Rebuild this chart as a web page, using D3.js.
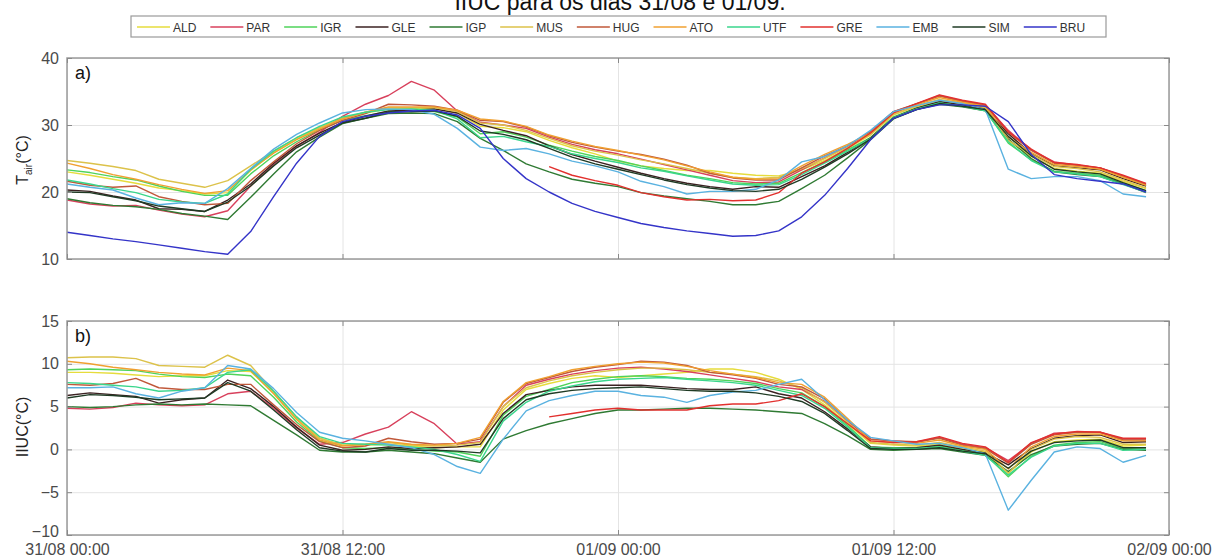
<!DOCTYPE html>
<html>
<head>
<meta charset="utf-8">
<script src="https://cdn.jsdelivr.net/npm/d3@7"></script>
<style>
   body { margin: 0; background: #fff; }
   svg { font-family: "Liberation Sans", Arial, sans-serif; }
   .grid line { stroke: #e4e4e4; stroke-width: 1; }
   .grid path { display: none; }
   .tick text { fill: #4a4a4a; font-size: 16px; }
   .ax line { stroke: #8a8a8a; }
   .ax path { display: none; }
</style>
</head>
<body>
<svg id="chart" width="1217" height="559"></svg>
<script>
// stations, legend order
const stations = ["ALD", "PAR", "IGR", "GLE", "IGP", "MUS", "HUG", "ATO", "UTF", "GRE", "EMB", "SIM", "BRU"];
const colors = ["#e6dc3c", "#d8405c", "#4fd35a", "#3b2222", "#2f7a33", "#dcc24a", "#c0583a",
   "#f0a030", "#3ad68c", "#e2302e", "#5ab2e0", "#1f3b24", "#3434c8"];

const hours = d3.range(48); // hourly, 31/08 00:00 .. 01/09 23:00
const xTickHours = [0, 12, 24, 36, 48];
const xTickLabels = ["31/08 00:00", "31/08 12:00", "01/09 00:00", "01/09 12:00", "02/09 00:00"];
const tairTicks = [10, 20, 30, 40];
const iiucTicks = [-10, -5, 0, 5, 10, 15];

// air temperature (°C)
const tairALD = [23.0, 22.5, 21.9, 21.3, 20.6, 20.2, 19.7, 19.9, 23.2, 25.9, 27.9, 29.6, 31.0, 31.8, 32.4, 32.5, 32.4, 31.8, 29.8, 29.6, 29.0, 27.7, 26.6, 25.7, 24.6, 23.9, 23.5, 23.2, 23.2, 22.8, 22.5, 22.4, 23.3, 24.7, 26.5, 28.5, 31.5, 32.7, 33.6, 33.1, 32.5, 27.7, 25.3, 23.5, 23.1, 22.8, 21.6, 20.5];
const tairPAR = [18.8, 18.2, 17.9, 18.0, 17.3, 16.7, 16.3, 17.2, 20.9, 24.1, 26.8, 28.9, 31.3, 33.1, 34.4, 36.5, 35.2, 32.1, 30.4, 30.0, 29.5, 28.2, 27.1, 26.3, 25.7, 24.9, 24.1, 23.3, 22.5, 21.7, 21.4, 21.5, 23.3, 25.1, 26.8, 29.0, 32.0, 33.1, 34.4, 33.6, 33.0, 29.2, 26.3, 24.5, 24.0, 23.6, 22.4, 21.2];
const tairIGR = [23.3, 22.9, 22.3, 21.8, 20.9, 20.1, 19.5, 19.5, 22.7, 25.4, 27.5, 29.3, 30.7, 31.4, 32.0, 32.1, 32.0, 31.2, 28.7, 29.0, 28.2, 27.0, 26.1, 25.3, 24.7, 23.9, 23.2, 22.5, 22.0, 21.4, 21.2, 21.3, 22.9, 24.5, 26.3, 28.1, 31.2, 32.5, 33.4, 32.9, 32.2, 27.3, 24.8, 23.1, 22.8, 22.5, 21.3, 20.2];
const tairGLE = [20.3, 20.1, 19.4, 18.8, 17.5, 17.4, 17.1, 18.8, 21.2, 24.3, 26.9, 28.8, 30.4, 31.3, 32.1, 32.2, 32.4, 31.8, 30.1, 29.2, 28.4, 26.9, 25.6, 24.6, 23.7, 22.8, 22.0, 21.3, 20.8, 20.4, 20.8, 20.7, 22.3, 23.9, 25.9, 28.1, 31.1, 32.5, 33.5, 33.0, 32.4, 28.7, 25.7, 23.9, 23.6, 23.3, 22.0, 20.9];
const tairIGP = [19.0, 18.4, 18.0, 17.8, 17.4, 16.8, 16.4, 15.9, 19.2, 22.7, 26.0, 28.2, 30.2, 31.0, 31.7, 31.8, 31.7, 30.5, 28.0, 26.2, 24.2, 23.0, 21.9, 21.3, 20.8, 19.9, 19.4, 19.0, 18.6, 18.1, 18.1, 18.6, 20.5, 22.5, 25.1, 27.8, 30.9, 32.3, 33.1, 32.7, 32.1, 27.9, 25.0, 23.0, 22.6, 22.3, 21.2, 19.9];
const tairMUS = [24.7, 24.3, 23.8, 23.2, 21.9, 21.3, 20.7, 21.7, 23.9, 26.1, 28.1, 29.6, 31.0, 31.9, 32.6, 32.6, 32.6, 32.0, 30.3, 30.0, 29.2, 28.0, 26.9, 26.1, 25.5, 24.8, 24.2, 23.5, 22.8, 22.2, 22.0, 22.2, 23.5, 25.0, 26.7, 28.6, 31.6, 32.8, 33.8, 33.3, 32.6, 27.7, 25.6, 23.8, 23.5, 23.0, 21.8, 20.6];
const tairHUG = [21.6, 21.0, 20.7, 20.9, 19.3, 18.6, 18.1, 18.3, 21.7, 24.5, 27.2, 29.2, 30.7, 31.7, 33.1, 33.0, 32.8, 32.2, 30.7, 30.5, 29.7, 28.4, 27.4, 26.7, 26.1, 25.6, 24.9, 24.0, 22.8, 22.1, 21.8, 21.8, 23.6, 25.4, 26.9, 29.0, 32.0, 33.2, 34.3, 33.5, 32.9, 28.9, 26.2, 24.3, 24.0, 23.6, 22.3, 21.1];
const tairATO = [24.3, 23.5, 22.6, 21.9, 21.1, 20.4, 19.8, 20.2, 23.3, 25.8, 27.8, 29.4, 30.9, 31.9, 32.7, 32.7, 32.7, 32.2, 30.9, 30.6, 29.8, 28.5, 27.6, 26.8, 26.2, 25.5, 24.8, 23.9, 23.0, 22.2, 21.9, 22.0, 23.9, 25.6, 27.1, 28.8, 31.8, 33.0, 34.1, 33.4, 32.8, 28.2, 25.9, 24.1, 23.8, 23.4, 22.2, 21.0];
const tairUTF = [21.8, 21.2, 20.5, 19.9, 18.9, 18.5, 18.3, 19.7, 23.4, 26.1, 28.1, 29.8, 31.2, 31.9, 32.3, 32.4, 32.2, 30.9, 28.1, 28.3, 27.5, 26.8, 25.7, 25.0, 24.4, 23.6, 23.1, 22.4, 21.8, 21.2, 21.0, 21.1, 22.6, 24.3, 26.1, 28.0, 31.1, 32.4, 33.3, 32.8, 32.1, 27.5, 24.7, 23.0, 22.7, 22.3, 21.1, 20.0];
const tairGRE = [null, null, null, null, null, null, null, null, null, null, null, null, null, null, null, null, null, null, null, null, null, 23.8, 22.5, 21.7, 21.0, 19.9, 19.3, 18.8, 18.9, 18.7, 18.8, 19.9, 22.8, 24.5, 26.5, 28.8, 31.8, 33.2, 34.5, 33.7, 33.1, 29.0, 26.4, 24.4, 24.1, 23.6, 22.5, 21.3];
const tairEMB = [21.2, 20.7, 20.3, 19.1, 18.1, 18.4, 18.3, 20.5, 23.5, 26.4, 28.6, 30.3, 31.8, 32.3, 32.4, 32.3, 31.6, 29.5, 26.7, 26.2, 26.5, 25.7, 24.6, 23.9, 23.0, 21.6, 20.8, 19.7, 20.1, 20.1, 20.4, 21.8, 24.5, 25.3, 26.9, 29.2, 32.0, 32.9, 33.7, 33.2, 32.3, 23.4, 22.0, 22.3, 22.3, 21.7, 19.7, 19.3];
const tairSIM = [20.0, 19.9, 19.3, 18.7, 17.9, 17.5, 17.1, 18.5, 20.9, 23.9, 26.6, 28.5, 30.3, 31.0, 31.9, 32.0, 32.1, 31.3, 29.1, 28.6, 27.8, 26.5, 25.2, 24.2, 23.4, 22.6, 21.8, 21.1, 20.6, 20.2, 20.1, 20.4, 21.9, 23.7, 25.7, 27.9, 31.0, 32.3, 33.2, 32.8, 32.3, 28.3, 25.4, 23.4, 23.0, 22.7, 21.4, 20.2];
const tairBRU = [14.0, 13.5, 13.0, 12.6, 12.1, 11.6, 11.1, 10.7, 14.1, 19.3, 24.3, 28.3, 30.5, 31.3, 31.8, 32.1, 32.2, 31.5, 29.5, 25.0, 22.0, 20.0, 18.3, 17.1, 16.2, 15.3, 14.7, 14.2, 13.8, 13.4, 13.5, 14.2, 16.3, 19.5, 23.5, 27.8, 31.0, 32.3, 33.0, 33.0, 32.8, 30.5, 25.6, 22.6, 22.0, 21.6, 21.2, 20.0];

// urban heat island intensity IIUC (°C)
const iiucALD = [9.0, 9.0, 8.9, 8.7, 8.5, 8.6, 8.6, 9.2, 9.1, 6.6, 3.6, 1.3, 0.5, 0.5, 0.6, 0.4, 0.2, 0.3, 0.3, 4.6, 7.0, 7.7, 8.3, 8.6, 8.4, 8.6, 8.8, 9.0, 9.4, 9.4, 9.0, 8.2, 7.0, 5.2, 3.0, 0.7, 0.5, 0.4, 0.6, 0.1, -0.3, -2.8, -0.3, 0.9, 1.1, 1.2, 0.4, 0.5];
const iiucPAR = [4.8, 4.7, 4.9, 5.4, 5.2, 5.1, 5.2, 6.5, 6.8, 4.8, 2.5, 0.6, 0.8, 1.8, 2.6, 4.4, 3.0, 0.6, 0.9, 5.0, 7.5, 8.2, 8.8, 9.2, 9.5, 9.6, 9.4, 9.1, 8.7, 8.3, 7.9, 7.3, 7.0, 5.6, 3.3, 1.2, 1.0, 0.8, 1.4, 0.6, 0.2, -1.3, 0.7, 1.9, 2.0, 2.0, 1.2, 1.2];
const iiucIGR = [9.3, 9.4, 9.3, 9.2, 8.8, 8.5, 8.4, 8.8, 8.6, 6.1, 3.2, 1.0, 0.2, 0.1, 0.2, 0.0, -0.2, -0.3, -0.8, 4.0, 6.2, 7.0, 7.8, 8.2, 8.5, 8.6, 8.5, 8.3, 8.2, 8.0, 7.7, 7.1, 6.6, 5.0, 2.8, 0.3, 0.2, 0.2, 0.4, -0.1, -0.6, -3.2, -0.8, 0.5, 0.8, 0.9, 0.1, 0.2];
const iiucGLE = [6.3, 6.6, 6.4, 6.2, 5.4, 5.8, 6.0, 8.1, 7.1, 5.0, 2.6, 0.5, -0.1, 0.0, 0.3, 0.1, 0.2, 0.3, 0.6, 4.2, 6.4, 6.9, 7.3, 7.5, 7.5, 7.5, 7.3, 7.1, 7.0, 7.0, 7.3, 6.5, 6.0, 4.4, 2.4, 0.3, 0.1, 0.2, 0.5, 0.0, -0.4, -1.8, 0.1, 1.3, 1.6, 1.7, 0.8, 0.9];
const iiucIGP = [5.0, 4.9, 5.0, 5.2, 5.3, 5.2, 5.3, 5.2, 5.1, 3.4, 1.7, -0.1, -0.3, -0.3, -0.1, -0.3, -0.5, -1.0, -1.5, 1.2, 2.2, 3.0, 3.6, 4.2, 4.6, 4.6, 4.7, 4.8, 4.8, 4.7, 4.6, 4.4, 4.2, 3.0, 1.6, 0.0, -0.1, 0.0, 0.1, -0.3, -0.7, -2.6, -0.6, 0.4, 0.6, 0.7, 0.0, -0.1];
const iiucMUS = [10.7, 10.8, 10.8, 10.6, 9.8, 9.7, 9.6, 11.0, 9.8, 6.8, 3.8, 1.3, 0.5, 0.6, 0.8, 0.5, 0.4, 0.5, 0.8, 5.0, 7.2, 8.0, 8.6, 9.0, 9.3, 9.5, 9.5, 9.3, 9.0, 8.8, 8.5, 8.0, 7.2, 5.5, 3.2, 0.8, 0.6, 0.5, 0.8, 0.3, -0.2, -2.8, 0.0, 1.2, 1.5, 1.4, 0.6, 0.6];
const iiucHUG = [7.6, 7.5, 7.7, 8.3, 7.2, 7.0, 7.0, 7.6, 7.6, 5.2, 2.9, 0.9, 0.2, 0.4, 1.3, 0.9, 0.6, 0.7, 1.2, 5.5, 7.7, 8.4, 9.1, 9.6, 9.9, 10.3, 10.2, 9.8, 9.0, 8.7, 8.3, 7.6, 7.3, 5.9, 3.4, 1.2, 1.0, 0.9, 1.3, 0.5, 0.1, -1.6, 0.6, 1.7, 2.0, 2.0, 1.1, 1.1];
const iiucATO = [10.3, 10.0, 9.6, 9.3, 9.0, 8.8, 8.7, 9.5, 9.2, 6.5, 3.5, 1.1, 0.4, 0.6, 0.9, 0.6, 0.5, 0.7, 1.4, 5.6, 7.8, 8.5, 9.3, 9.7, 10.0, 10.2, 10.1, 9.7, 9.2, 8.8, 8.4, 7.8, 7.6, 6.1, 3.6, 1.0, 0.8, 0.7, 1.1, 0.4, 0.0, -2.3, 0.3, 1.5, 1.8, 1.8, 1.0, 1.0];
const iiucUTF = [7.8, 7.7, 7.5, 7.3, 6.8, 6.9, 7.2, 9.0, 9.3, 6.8, 3.8, 1.5, 0.7, 0.6, 0.5, 0.3, 0.0, -0.6, -1.4, 3.3, 5.5, 6.8, 7.4, 7.9, 8.2, 8.3, 8.4, 8.2, 8.0, 7.8, 7.5, 6.9, 6.3, 4.8, 2.6, 0.2, 0.1, 0.1, 0.3, -0.2, -0.7, -3.0, -0.9, 0.4, 0.7, 0.7, -0.1, 0.0];
const iiucGRE = [null, null, null, null, null, null, null, null, null, null, null, null, null, null, null, null, null, null, null, null, null, 3.8, 4.2, 4.6, 4.8, 4.6, 4.6, 4.6, 5.1, 5.3, 5.3, 5.7, 6.5, 5.0, 3.0, 1.0, 0.8, 0.9, 1.5, 0.7, 0.3, -1.5, 0.8, 1.8, 2.1, 2.0, 1.3, 1.3];
const iiucEMB = [7.2, 7.2, 7.3, 6.5, 6.0, 6.8, 7.2, 9.8, 9.4, 7.1, 4.3, 2.0, 1.3, 1.0, 0.6, 0.2, -0.6, -2.0, -2.8, 1.2, 4.5, 5.7, 6.3, 6.8, 6.8, 6.3, 6.1, 5.5, 6.3, 6.7, 6.9, 7.6, 8.2, 5.8, 3.4, 1.4, 1.0, 0.6, 0.7, 0.2, -0.5, -7.1, -3.6, -0.3, 0.3, 0.1, -1.5, -0.7];
const iiucSIM = [6.0, 6.4, 6.3, 6.1, 5.8, 5.9, 6.0, 7.8, 6.8, 4.6, 2.3, 0.2, -0.2, -0.3, 0.1, -0.1, -0.1, -0.2, -0.4, 3.6, 5.8, 6.5, 6.9, 7.1, 7.2, 7.3, 7.1, 6.9, 6.8, 6.8, 6.6, 6.2, 5.6, 4.2, 2.2, 0.1, 0.0, 0.0, 0.2, -0.2, -0.5, -2.2, -0.2, 0.8, 1.0, 1.1, 0.2, 0.2];

const tairSeries = [tairALD, tairPAR, tairIGR, tairGLE, tairIGP, tairMUS, tairHUG, tairATO, tairUTF, tairGRE, tairEMB, tairSIM, tairBRU];
const iiucSeries = [iiucALD, iiucPAR, iiucIGR, iiucGLE, iiucIGP, iiucMUS, iiucHUG, iiucATO, iiucUTF, iiucGRE, iiucEMB, iiucSIM, null];

const svg = d3.select("#chart");
const left = 67, right = 1169;

const x = d3.scaleLinear().domain([0, 48]).range([left, right]);

// title (sits partly above the top edge, like the original)
svg.append("text")
   .attr("x", 620).attr("y", 10)
   .attr("text-anchor", "middle")
   .attr("font-size", 23)
   .attr("fill", "#111")
   .text("IIUC para os dias 31/08 e 01/09.");

function drawPanel(yDomain, top, bottom, ticks, series, tag, showX) {
   const y = d3.scaleLinear().domain(yDomain).range([bottom, top]);
   const g = svg.append("g");

   // grid
   g.append("g").attr("class", "grid")
      .attr("transform", `translate(0,${bottom})`)
      .call(d3.axisBottom(x).tickValues(xTickHours).tickSize(-(bottom - top)).tickFormat(""));
   g.append("g").attr("class", "grid")
      .attr("transform", `translate(${left},0)`)
      .call(d3.axisLeft(y).tickValues(ticks).tickSize(-(right - left)).tickFormat(""));

   // lines
   const line = d3.line()
      .defined(d => d != null)
      .x((d, i) => x(hours[i]))
      .y(d => y(d));

   series.forEach((s, i) => {
      if (!s) return;
      g.append("path")
         .datum(s)
         .attr("fill", "none")
         .attr("stroke", colors[i])
         .attr("stroke-width", 1.4)
         .attr("stroke-linejoin", "round")
         .attr("d", line);
   });

   // frame + inward ticks
   g.append("rect")
      .attr("x", left).attr("y", top)
      .attr("width", right - left).attr("height", bottom - top)
      .attr("fill", "none").attr("stroke", "#9a9a9a").attr("stroke-width", 1.5);

   const yAx = g.append("g").attr("class", "ax")
      .attr("transform", `translate(${left},0)`)
      .call(d3.axisLeft(y).tickValues(ticks).tickSize(-5).tickPadding(8));
   // lowest label sits a touch higher so it clears the date labels
   if (showX) yAx.selectAll(".tick text").filter(d => d === yDomain[0]).attr("dy", "0.1em");

   g.append("g").attr("class", "ax")
      .attr("transform", `translate(${right},0)`)
      .call(d3.axisRight(y).tickValues(ticks).tickSize(-5).tickFormat(""));
   g.append("g").attr("class", "ax")
      .attr("transform", `translate(0,${top})`)
      .call(d3.axisTop(x).tickValues(xTickHours).tickSize(-5).tickFormat(""));
   g.append("g").attr("class", "ax")
      .attr("transform", `translate(0,${bottom})`)
      .call(d3.axisBottom(x).tickValues(xTickHours).tickSize(-5)
         .tickPadding(9)
         .tickFormat((d, i) => showX ? xTickLabels[i] : ""));

   g.append("text")
      .attr("x", left + 8).attr("y", top + 21)
      .attr("font-size", 18).attr("fill", "#111")
      .text(tag);

   return g;
}

drawPanel([10, 40], 58, 259, tairTicks, tairSeries, "a)", false);
drawPanel([-10, 15], 321, 535, iiucTicks, iiucSeries, "b)", true);

// y titles
const ta = svg.append("text")
   .attr("transform", "translate(28,160) rotate(-90)")
   .attr("text-anchor", "middle")
   .attr("font-size", 16).attr("fill", "#222");
ta.append("tspan").text("T");
ta.append("tspan").attr("font-size", 10).attr("dy", 4).text("air");
ta.append("tspan").attr("dy", -4).text("(°C)");

svg.append("text")
   .attr("transform", "translate(28,427) rotate(-90)")
   .attr("text-anchor", "middle")
   .attr("font-size", 16).attr("fill", "#222")
   .text("IIUC(°C)");

// legend
const legend = svg.append("g");
legend.append("rect")
   .attr("x", 131).attr("y", 16)
   .attr("width", 975).attr("height", 21)
   .attr("fill", "#fff").attr("stroke", "#9a9a9a").attr("stroke-width", 1.2);

let lx = 137;
stations.forEach((name, i) => {
   legend.append("line")
      .attr("x1", lx).attr("x2", lx + 33)
      .attr("y1", 27).attr("y2", 27)
      .attr("stroke", colors[i]).attr("stroke-width", 1.5);
   const t = legend.append("text")
      .attr("x", lx + 36).attr("y", 31.5)
      .attr("font-size", 12).attr("fill", "#333")
      .text(name);
   lx += 36 + t.node().getComputedTextLength() + 14;
});
</script>
</body>
</html>
